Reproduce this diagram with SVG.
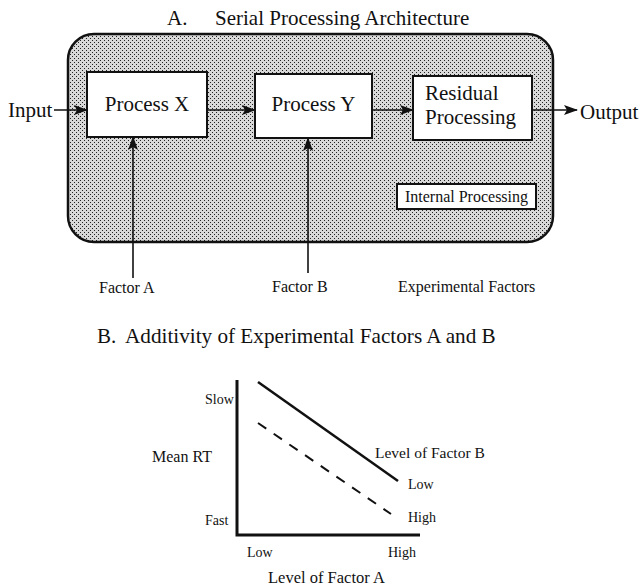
<svg xmlns="http://www.w3.org/2000/svg" width="643" height="587" viewBox="0 0 643 587">
  <style>
    text { font-family: "Liberation Serif", "Times New Roman", serif; fill: #111; }
    .box { fill: #fff; stroke: #111; stroke-width: 2; }
    .wire { fill: none; stroke: #111; stroke-width: 1.6; }
    .axis { fill: none; stroke: #111; stroke-width: 3; }
    .lbl { font-size: 21px; }
    .sm { font-size: 16px; }
    .tick { font-size: 14px; }
  </style>
  <defs>
    <pattern id="stipple" patternUnits="userSpaceOnUse" width="4" height="4">
      <rect width="4" height="4" fill="#d8d8d8"/>
      <rect x="0" y="0" width="1" height="1" fill="#222"/>
      <rect x="2" y="2" width="1" height="1" fill="#222"/>
    </pattern>
    <marker id="arrow" markerUnits="userSpaceOnUse" markerWidth="14" markerHeight="10" refX="13" refY="5" orient="auto">
      <path d="M0,0 L14,5 L0,10 L3,5 z" fill="#111"/>
    </marker>
  </defs>

  <!-- Part A heading -->
  <g id="title-a">
    <text class="lbl" x="167" y="25">A.</text>
    <text class="lbl" x="215" y="25">Serial Processing Architecture</text>
  </g>

  <!-- stippled container for the internal stages -->
  <g id="internal-processing-area">
    <rect x="68" y="34" width="485" height="208" rx="26" ry="26" fill="url(#stipple)" stroke="#111" stroke-width="2.5"/>
  </g>

  <g id="input">
    <text class="lbl" x="8" y="117">Input</text>
  </g>

  <g id="process-x">
    <rect class="box" x="87" y="72" width="120" height="65"/>
    <text class="lbl" x="147" y="111" text-anchor="middle">Process X</text>
  </g>

  <g id="process-y">
    <rect class="box" x="255" y="74" width="117" height="64"/>
    <text class="lbl" x="313.5" y="111" text-anchor="middle">Process Y</text>
  </g>

  <g id="residual-processing">
    <rect class="box" x="413" y="76" width="119" height="64"/>
    <text class="lbl" x="425" y="100">Residual</text>
    <text class="lbl" x="425" y="124">Processing</text>
  </g>

  <g id="internal-processing-label">
    <rect class="box" x="397" y="184" width="139" height="25" stroke-width="1.8"/>
    <text x="466.5" y="202" font-size="16" text-anchor="middle">Internal Processing</text>
  </g>

  <g id="output">
    <text class="lbl" x="580" y="119">Output</text>
  </g>

  <g id="factor-a">
    <text class="sm" x="99" y="293">Factor A</text>
  </g>
  <g id="factor-b">
    <text class="sm" x="272" y="292">Factor B</text>
  </g>
  <g id="experimental-factors">
    <text class="sm" x="398" y="292">Experimental Factors</text>
  </g>

  <!-- connectors -->
  <g id="connectors">
    <line class="wire" x1="54" y1="110" x2="87" y2="110" marker-end="url(#arrow)"/>
    <line class="wire" x1="207" y1="110" x2="255" y2="110" marker-end="url(#arrow)"/>
    <line class="wire" x1="372" y1="110" x2="413" y2="110" marker-end="url(#arrow)"/>
    <line class="wire" x1="532" y1="110" x2="577" y2="110" marker-end="url(#arrow)"/>
    <line class="wire" x1="133" y1="278" x2="133" y2="137" marker-end="url(#arrow)"/>
    <line class="wire" x1="308" y1="273" x2="308" y2="138" marker-end="url(#arrow)"/>
  </g>

  <!-- Part B: additivity plot -->
  <g id="title-b">
    <text x="97" y="343" font-size="21">B.</text>
    <text x="125" y="343" font-size="21.2">Additivity of Experimental Factors A and B</text>
  </g>

  <g id="additivity-plot">
    <path class="axis" d="M237,380 L237,535 L420,535"/>
    <line x1="258" y1="382" x2="398" y2="481" stroke="#111" stroke-width="2.5"/>
    <line x1="258" y1="423" x2="391" y2="514" stroke="#111" stroke-width="2" stroke-dasharray="10,9"/>
    <text class="tick" x="205" y="404">Slow</text>
    <text class="tick" x="205" y="525">Fast</text>
    <text class="sm" x="152" y="462">Mean RT</text>
    <text x="375" y="458" font-size="15.5">Level of Factor B</text>
    <text class="tick" x="408" y="489">Low</text>
    <text class="tick" x="408" y="522">High</text>
    <text class="tick" x="247" y="557">Low</text>
    <text class="tick" x="388" y="557">High</text>
    <text x="268" y="583" font-size="16.5">Level of Factor A</text>
  </g>
</svg>
